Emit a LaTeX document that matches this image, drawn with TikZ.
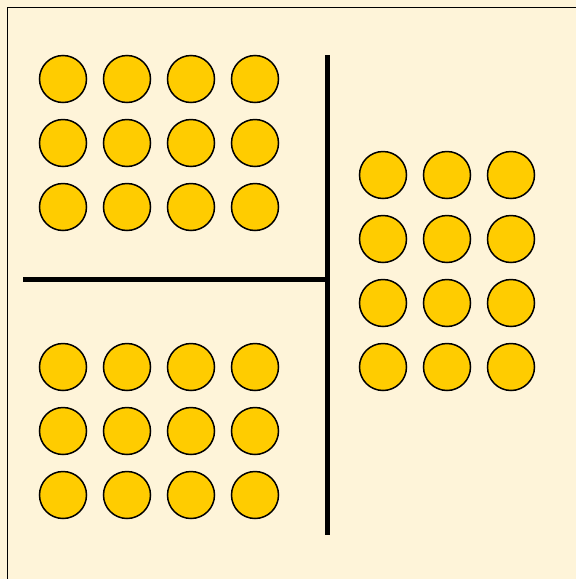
\documentclass[tikz,border=0pt]{standalone}
\definecolor{parch}{HTML}{FEF4D9}
\definecolor{dot}{HTML}{FFCC00}
\tikzset{
  dotnode/.style={circle, draw=black, line width=1.5pt, fill=dot, minimum size=47pt, inner sep=0pt},
  bar/.style={line width=5pt, black},
}
\begin{document}
\begin{tikzpicture}[x=1pt,y=-1pt]
\fill[parch] (0,0) rectangle (576,579);
\useasboundingbox (0,0) rectangle (576,579);
\draw[line width=1.6pt] (7.5,590) -- (7.5,7.5) -- (590,7.5);
\foreach \i/\x in {1/63,2/127,3/191,4/255}{
  \foreach \j/\y in {1/79,2/143,3/207}{
    \node[dotnode] (a\i\j) at (\x,\y) {};
  }
  \foreach \j/\y in {1/367,2/431,3/495}{
    \node[dotnode] (b\i\j) at (\x,\y) {};
  }
}
\foreach \i/\x in {1/383,2/447,3/511}{
  \foreach \j/\y in {1/175,2/239,3/303,4/367}{
    \node[dotnode] (c\i\j) at (\x,\y) {};
  }
}
\coordinate (vt) at (327.5,55);
\coordinate (vb) at (327.5,535);
\coordinate (hl) at (23,279);
\coordinate (hr) at (327.5,279);
\draw[bar] (vt) -- (vb);
\draw[bar] (hl) -- (hr);
\end{tikzpicture}
\end{document}
